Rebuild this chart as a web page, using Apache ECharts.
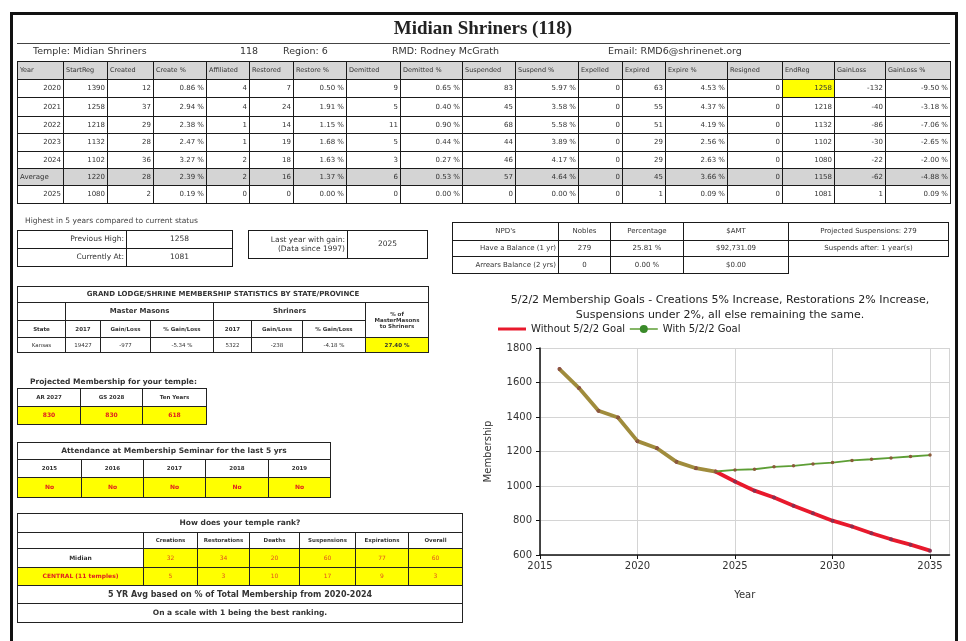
<!DOCTYPE html>
<html><head><meta charset="utf-8">
<script src="https://cdn.jsdelivr.net/npm/echarts@6/dist/echarts.min.js"></script>
<style>
body{margin:0;background:#fff;width:966px;height:641px;overflow:hidden;position:relative;font-family:"DejaVu Sans",sans-serif;color:#333}
#chart{position:absolute;left:0;top:0;width:966px;height:641px}
#layer{position:absolute;left:0;top:0;width:966px;height:641px;pointer-events:none}
.c{position:absolute;box-sizing:border-box;border:1px solid #1a1a1a;display:flex;align-items:center;overflow:hidden;white-space:pre-line;line-height:1.15;padding:0 2px}
.t{position:absolute;white-space:nowrap}
</style></head><body>
<div id="chart"></div>
<div id="layer"></div>
<script>
// ---------- data ----------
const reportTitle = 'Midian Shriners (118)';
const infoTexts = ['Temple: Midian Shriners', '118', 'Region: 6', 'RMD: Rodney McGrath', 'Email: RMD6@shrinenet.org'];

const mainHeaders = ['Year','StartReg','Created','Create %','Affiliated','Restored','Restore %','Demitted','Demitted %','Suspended','Suspend %','Expelled','Expired','Expire %','Resigned','EndReg','GainLoss','GainLoss %'];
const row2020 = ['2020','1390','12','0.86 %','4','7','0.50 %','9','0.65 %','83','5.97 %','0','63','4.53 %','0','1258','-132','-9.50 %'];
const row2021 = ['2021','1258','37','2.94 %','4','24','1.91 %','5','0.40 %','45','3.58 %','0','55','4.37 %','0','1218','-40','-3.18 %'];
const row2022 = ['2022','1218','29','2.38 %','1','14','1.15 %','11','0.90 %','68','5.58 %','0','51','4.19 %','0','1132','-86','-7.06 %'];
const row2023 = ['2023','1132','28','2.47 %','1','19','1.68 %','5','0.44 %','44','3.89 %','0','29','2.56 %','0','1102','-30','-2.65 %'];
const row2024 = ['2024','1102','36','3.27 %','2','18','1.63 %','3','0.27 %','46','4.17 %','0','29','2.63 %','0','1080','-22','-2.00 %'];
const rowAverage = ['Average','1220','28','2.39 %','2','16','1.37 %','6','0.53 %','57','4.64 %','0','45','3.66 %','0','1158','-62','-4.88 %'];
const row2025 = ['2025','1080','2','0.19 %','0','0','0.00 %','0','0.00 %','0','0.00 %','0','1','0.09 %','0','1081','1','0.09 %'];

const highestCaption = 'Highest in 5 years compared to current status';
const highestLabels = ['Previous High:', 'Currently At:'];
const highestValues = ['1258', '1081'];
const lastGainLabel = 'Last year with gain:\n(Data since 1997)';
const lastGainValue = '2025';

const npdHeaders = ["NPD's", 'Nobles', 'Percentage', '$AMT', 'Projected Suspensions: 279'];
const npdRow1 = ['Have a Balance (1 yr)', '279', '25.81 %', '$92,731.09', 'Suspends after: 1 year(s)'];
const npdRow2 = ['Arrears Balance (2 yrs)', '0', '0.00 %', '$0.00'];

const glTitle = 'GRAND LODGE/SHRINE MEMBERSHIP STATISTICS BY STATE/PROVINCE';
const glGroups = ['Master Masons', 'Shriners', '% of\nMasterMasons\nto Shriners'];
const glHeaders = ['State', '2017', 'Gain/Loss', '% Gain/Loss', '2017', 'Gain/Loss', '% Gain/Loss'];
const glValues = ['Kansas', '19427', '-977', '-5.34 %', '5322', '-238', '-4.18 %', '27.40 %'];

const projCaption = 'Projected Membership for your temple:';
const projHeaders = ['AR 2027', 'GS 2028', 'Ten Years'];
const projValues = ['830', '830', '618'];

const attTitle = 'Attendance at Membership Seminar for the last 5 yrs';
const attYears = ['2015', '2016', '2017', '2018', '2019'];
const attValues = ['No', 'No', 'No', 'No', 'No'];

const rankTitle = 'How does your temple rank?';
const rankHeaders = ['Creations', 'Restorations', 'Deaths', 'Suspensions', 'Expirations', 'Overall'];
const rankTempleLabel = 'Midian';
const rankTemple = ['32', '34', '20', '60', '77', '60'];
const rankRegionLabel = 'CENTRAL (11 temples)';
const rankRegion = ['5', '3', '10', '17', '9', '3'];
const rankNote1 = '5 YR Avg based on % of Total Membership from 2020-2024';
const rankNote2 = 'On a scale with 1 being the best ranking.';

const chartTitle = '5/2/2 Membership Goals - Creations 5% Increase, Restorations 2% Increase,\nSuspensions under 2%, all else remaining the same.';
const chartYears = [2016,2017,2018,2019,2020,2021,2022,2023,2024,2025,2026,2027,2028,2029,2030,2031,2032,2033,2034,2035];
const withoutGoal = [1678,1568,1436,1397,1260,1219,1140,1103,1084,1026,973,933,886,842,799,765,726,691,660,625];
const withGoal    = [1678,1568,1436,1397,1260,1219,1140,1103,1084,1093,1097,1111,1117,1128,1136,1148,1155,1163,1171,1179];
const lastActualYear = 2024;
const seriesNames = ['Without 5/2/2 Goal', 'With 5/2/2 Goal'];

// ---------- layout helpers ----------
const layer = document.getElementById('layer');
function box(x0, y0, x1, y1, text, st) {
  st = st || {};
  const d = document.createElement('div');
  d.className = 'c';
  d.style.left = x0 + 'px'; d.style.top = y0 + 'px';
  d.style.width = (x1 - x0 + 1) + 'px'; d.style.height = (y1 - y0 + 1) + 'px';
  const a = st.align || 'center';
  d.style.justifyContent = a === 'left' ? 'flex-start' : a === 'right' ? 'flex-end' : 'center';
  d.style.textAlign = a;
  d.style.fontSize = (st.size || 7) + 'px';
  if (st.bg) d.style.background = st.bg;
  if (st.color) d.style.color = st.color;
  if (st.bold) d.style.fontWeight = 'bold';
  if (st.border) d.style.border = st.border;
  d.textContent = text;
  layer.appendChild(d);
}
function txt(x, y, text, st) {
  st = st || {};
  const d = document.createElement('div');
  d.className = 't';
  d.style.left = x + 'px'; d.style.top = y + 'px';
  d.style.fontSize = (st.size || 9) + 'px';
  if (st.bold) d.style.fontWeight = 'bold';
  if (st.family) d.style.fontFamily = st.family;
  if (st.color) d.style.color = st.color;
  if (st.center) d.style.transform = 'translateX(-50%)';
  d.textContent = text;
  layer.appendChild(d);
}

// outer frame
(function(){
  const f = document.createElement('div');
  f.style.cssText = 'position:absolute;left:10px;top:12px;width:948px;height:700px;border:3px solid #111;box-sizing:border-box';
  layer.appendChild(f);
  const u = document.createElement('div');
  u.style.cssText = 'position:absolute;left:17px;top:43px;width:933px;height:1px;background:#444';
  layer.appendChild(u);
})();

txt(483, 17, reportTitle, {size: 19, bold: true, family: '"Liberation Serif",serif', center: true, color: '#222'});
const infoX = [33, 240, 283, 392, 608];
infoTexts.forEach((t, i) => txt(infoX[i], 45, t, {size: 9.5, color: '#333'}));

// main table
const mX = [17,63,107,153,206,249,293,346,400,462,515,578,622,665,727,782,834,885,950];
const mY = [61,79,97,116,133,151,168,185,203];
mainHeaders.forEach((h, c) => box(mX[c], mY[0], mX[c+1], mY[1], h, {align: 'left', bg: '#d6d6d6', size: 6.5}));
[row2020,row2021,row2022,row2023,row2024,rowAverage,row2025].forEach((row, r) => {
  const avg = row === rowAverage;
  row.forEach((v, c) => {
    let bg = avg ? '#d4d4d4' : null;
    if (row === row2020 && c === 15) bg = '#ffff00';
    box(mX[c], mY[r+1], mX[c+1], mY[r+2], v, {align: (avg && c === 0) ? 'left' : 'right', bg: bg, size: 7});
  });
});

// highest
txt(25, 216, highestCaption, {size: 7.5, color: '#444'});
const hX = [17,126,232], hY = [230,248,266];
highestLabels.forEach((l, r) => {
  box(hX[0], hY[r], hX[1], hY[r+1], l, {align: 'right', size: 7.5});
  box(hX[1], hY[r], hX[2], hY[r+1], highestValues[r], {size: 7.5});
});
box(248, 230, 347, 258, lastGainLabel, {align: 'right', size: 7.5});
box(347, 230, 427, 258, lastGainValue, {size: 7.5});

// NPD
const nX = [452,558,610,683,788,948], nY = [222,240,256,273];
npdHeaders.forEach((h, c) => box(nX[c], nY[0], nX[c+1], nY[1], h, {size: 7}));
npdRow1.forEach((v, c) => box(nX[c], nY[1], nX[c+1], nY[2], v, {size: 7, align: c === 0 ? 'right' : 'center'}));
npdRow2.forEach((v, c) => box(nX[c], nY[2], nX[c+1], nY[3], v, {size: 7, align: c === 0 ? 'right' : 'center'}));

// Grand lodge
const gX = [17,65,100,150,213,251,302,365,428], gY = [286,302,320,337,352];
const gb = '1.5px solid #222';
box(gX[0], gY[0], gX[8], gY[1], glTitle, {bold: true, size: 7, border: gb});
box(gX[0], gY[1], gX[1], gY[2], '', {border: gb});
box(gX[1], gY[1], gX[4], gY[2], glGroups[0], {bold: true, size: 7, border: gb});
box(gX[4], gY[1], gX[7], gY[2], glGroups[1], {bold: true, size: 7, border: gb});
box(gX[7], gY[1], gX[8], gY[3], glGroups[2], {bold: true, size: 5.5, border: gb});
glHeaders.forEach((h, c) => box(gX[c], gY[2], gX[c+1], gY[3], h, {bold: true, size: 5.5, border: gb}));
glValues.forEach((v, c) => box(gX[c], gY[3], gX[c+1], gY[4], v, {size: 5.5, border: gb, bg: c === 7 ? '#ffff00' : null, bold: c === 7}));

// Projected
txt(30, 377, projCaption, {size: 7.5, bold: true, color: '#333'});
const pX = [17,80,142,206], pY = [388,406,424];
projHeaders.forEach((h, c) => box(pX[c], pY[0], pX[c+1], pY[1], h, {bold: true, size: 5.5, border: gb}));
projValues.forEach((v, c) => box(pX[c], pY[1], pX[c+1], pY[2], v, {size: 6, border: gb, bg: '#ffff00', color: '#e02020', bold: true}));

// Attendance
const aX = [17,81,143,205,268,330], aY = [442,459,477,497];
box(aX[0], aY[0], aX[5], aY[1], attTitle, {bold: true, size: 7.5, border: gb});
attYears.forEach((h, c) => box(aX[c], aY[1], aX[c+1], aY[2], h, {bold: true, size: 5.5, border: gb}));
attValues.forEach((v, c) => box(aX[c], aY[2], aX[c+1], aY[3], v, {size: 6, border: gb, bg: '#ffff00', color: '#e02020', bold: true}));

// Rank
const rX = [17,143,197,249,299,355,408,462], rY = [513,532,548,567,585,603,622];
box(rX[0], rY[0], rX[7], rY[1], rankTitle, {bold: true, size: 7.5, border: gb});
box(rX[0], rY[1], rX[1], rY[2], '', {border: gb});
rankHeaders.forEach((h, c) => box(rX[c+1], rY[1], rX[c+2], rY[2], h, {bold: true, size: 5.5, border: gb}));
box(rX[0], rY[2], rX[1], rY[3], rankTempleLabel, {bold: true, size: 6, border: gb});
rankTemple.forEach((v, c) => box(rX[c+1], rY[2], rX[c+2], rY[3], v, {size: 6, border: gb, bg: '#ffff00', color: '#e05020'}));
box(rX[0], rY[3], rX[1], rY[4], rankRegionLabel, {bold: true, size: 6, border: gb, bg: '#ffff00', color: '#e02020'});
rankRegion.forEach((v, c) => box(rX[c+1], rY[3], rX[c+2], rY[4], v, {size: 6, border: gb, bg: '#ffff00', color: '#e05020'}));
box(rX[0], rY[4], rX[7], rY[5], rankNote1, {bold: true, size: 8, border: gb});
box(rX[0], rY[5], rX[7], rY[6], rankNote2, {bold: true, size: 7.5, border: gb});

// ---------- chart ----------
const chart = echarts.init(document.getElementById('chart'), null, {renderer: 'canvas'});
const font = '"DejaVu Sans", sans-serif';
const olive = '#a08c3c';
const split = (lastActualYear - chartYears[0]) / (chartYears[chartYears.length - 1] - chartYears[0]);
function grad(c2) {
  return new echarts.graphic.LinearGradient(0, 0, 1, 0, [
    {offset: 0, color: olive}, {offset: split, color: olive},
    {offset: split, color: c2}, {offset: 1, color: c2}
  ]);
}
chart.setOption({
  animation: false,
  textStyle: {fontFamily: font},
  title: {
    text: chartTitle, left: 715, top: 288, textAlign: 'center',
    textStyle: {fontSize: 11, fontWeight: 'normal', color: '#222', lineHeight: 15, fontFamily: font}
  },
  legend: {
    left: 493, top: 319, itemGap: 4, itemWidth: 28, itemHeight: 10,
    textStyle: {fontSize: 10, color: '#222', fontFamily: font},
    data: [
      {name: seriesNames[0], icon: 'path://M0,4 L28,4 L28,7 L0,7 Z', itemStyle: {color: '#e8192c'}},
      {name: seriesNames[1], itemStyle: {color: '#3a8a2a'}, lineStyle: {color: '#5d9e35', width: 1.5}}
    ]
  },
  grid: {left: 540, top: 348, width: 409.5, height: 207, containLabel: false},
  xAxis: {
    type: 'value', min: 2015, max: 2036, interval: 5,
    name: 'Year', nameLocation: 'middle', nameGap: 35,
    nameTextStyle: {fontSize: 10, color: '#333'},
    axisLine: {lineStyle: {color: '#111', width: 1.5}},
    axisTick: {show: true, length: 4, lineStyle: {color: '#111'}},
    axisLabel: {fontSize: 10, color: '#333', showMaxLabel: false, margin: 6, formatter: v => String(v)},
    splitLine: {show: true, lineStyle: {color: '#d4d4d4'}}
  },
  yAxis: {
    type: 'value', min: 600, max: 1800, interval: 200,
    name: 'Membership', nameLocation: 'middle', nameGap: 47, nameRotate: 90,
    nameTextStyle: {fontSize: 10, color: '#333'},
    axisLine: {show: true, lineStyle: {color: '#111', width: 1.5}},
    axisTick: {show: true, length: 4, lineStyle: {color: '#111'}},
    axisLabel: {fontSize: 10, color: '#333', margin: 8, formatter: v => String(v)},
    splitLine: {show: true, lineStyle: {color: '#d4d4d4'}}
  },
  series: [
    {name: seriesNames[0], type: 'line', data: chartYears.map((y, i) => [y, withoutGoal[i]]),
     symbol: 'circle', symbolSize: 4, showAllSymbol: true,
     lineStyle: {width: 3.8, color: grad('#e8192c')}, itemStyle: {color: '#8a3050'}, z: 2},
    {name: seriesNames[1], type: 'line', data: chartYears.map((y, i) => [y, withGoal[i]]),
     symbol: 'circle', symbolSize: 3.5, showAllSymbol: true,
     lineStyle: {width: 1.8, color: grad('#5d9e35')}, itemStyle: {color: '#8a5a3a'}, z: 3}
  ]
});
</script>
</body></html>
